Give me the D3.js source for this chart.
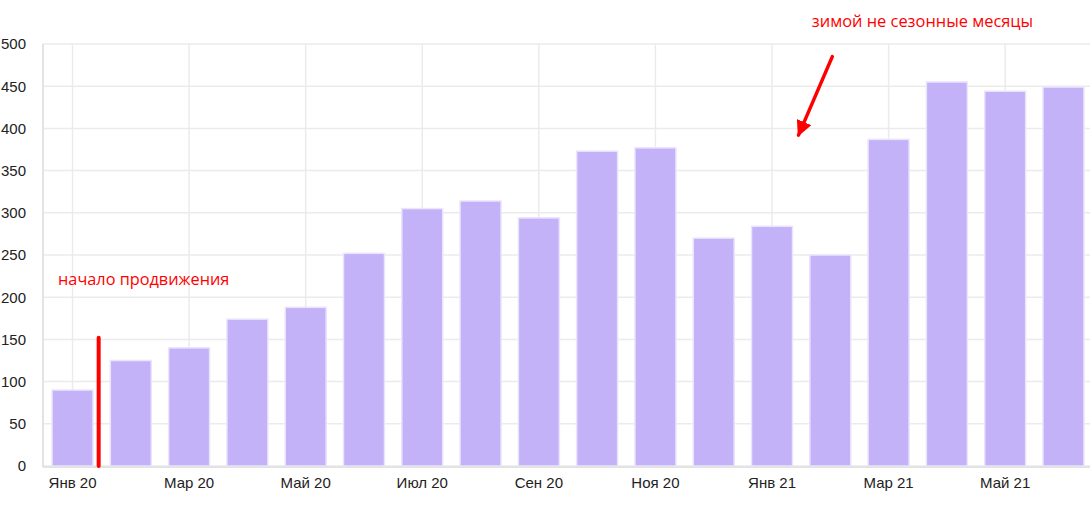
<!DOCTYPE html>
<html>
<head>
<meta charset="utf-8">
<script src="https://cdn.jsdelivr.net/npm/d3@7"></script>
<style>
html,body{margin:0;padding:0;background:#fff;}
svg{display:block;}
</style>
</head>
<body>
<svg id="chart" width="1092" height="523"></svg>
<script>
const months = ["Янв 20","Фев 20","Мар 20","Апр 20","Май 20","Июн 20","Июл 20","Авг 20","Сен 20","Окт 20","Ноя 20","Дек 20","Янв 21","Фев 21","Мар 21","Апр 21","Май 21","Июн 21"];
const values = [90,125,140,174,188,252,305,314,294,373,377,270,284,250,387,455,444,449];
const xTickLabels = ["Янв 20","Мар 20","Май 20","Июл 20","Сен 20","Ноя 20","Янв 21","Мар 21","Май 21"];
const yTicks = [0,50,100,150,200,250,300,350,400,450,500];
const annoStartText = "начало продвижения";
const annoStartLineValue = 152;
const annoWinterText = "зимой не сезонные месяцы";

const svg = d3.select("#chart");
const m = {left:43, right:0, top:44, bottom:57};
const W = 1092, H = 523;
const plotRight = 1090;
const x = d3.scaleBand().domain(months).range([m.left, 1093]).paddingInner(0.297).paddingOuter(0.155);
const y = d3.scaleLinear().domain([0,500]).range([H - m.bottom, m.top]);

const grid = svg.append("g");
grid.selectAll("line.h").data(yTicks).join("line")
  .attr("x1", m.left).attr("x2", plotRight)
  .attr("y1", d => y(d)).attr("y2", d => y(d))
  .attr("stroke", "#ebebeb").attr("stroke-width", 1.5);
grid.selectAll("line.v").data(xTickLabels).join("line")
  .attr("x1", d => x(d) + x.bandwidth()/2).attr("x2", d => x(d) + x.bandwidth()/2)
  .attr("y1", y(500)).attr("y2", y(0))
  .attr("stroke", "#ebebeb").attr("stroke-width", 1.5);

svg.append("g").selectAll("rect").data(values).join("rect")
  .attr("x", (d,i) => x(months[i]))
  .attr("width", x.bandwidth())
  .attr("y", d => y(d))
  .attr("height", d => y(0) - y(d))
  .attr("fill", "#c4b2f9")
  .attr("stroke", "#ebe4fd")
  .attr("stroke-width", 1.5);

// axis lines
svg.append("line").attr("x1", m.left).attr("x2", m.left).attr("y1", y(500)).attr("y2", y(0)+1)
  .attr("stroke", "#e3e3e3").attr("stroke-width", 2);
svg.append("line").attr("x1", m.left).attr("x2", plotRight).attr("y1", y(0)+1).attr("y2", y(0)+1)
  .attr("stroke", "#e3e3e3").attr("stroke-width", 2);

// y axis
const yAxis = d3.axisLeft(y).tickValues(yTicks).tickSize(0).tickPadding(17);
const gy = svg.append("g").attr("transform", `translate(${m.left},0)`).call(yAxis);
gy.select(".domain").remove();
gy.selectAll("text").attr("font-family","Arial, 'Liberation Sans', sans-serif").attr("font-size","15px").attr("fill","#222");

// x axis
const xAxis = d3.axisBottom(x).tickValues(xTickLabels).tickSize(0).tickPadding(11);
const gx = svg.append("g").attr("transform", `translate(0,${y(0)})`).call(xAxis);
gx.select(".domain").remove();
gx.selectAll("text").attr("font-family","Arial, 'Liberation Sans', sans-serif").attr("font-size","15px").attr("fill","#222");

// annotations
const xStart = x(months[0]) + x.bandwidth() + (x.step() - x.bandwidth())/2 - 3;
svg.append("line").attr("x1", xStart).attr("x2", xStart)
  .attr("y1", y(annoStartLineValue)).attr("y2", y(0))
  .attr("stroke", "red").attr("stroke-width", 4).attr("stroke-linecap","round");
svg.append("text").attr("x", x(months[0]) + 6).attr("y", y(200) - 12)
  .attr("font-family","'Open Sans', sans-serif").attr("font-size","16.3px").attr("fill","red")
  .text(annoStartText);

svg.append("text").attr("x", x(months[13]) + 2).attr("y", 27)
  .attr("font-family","'Open Sans', sans-serif").attr("font-size","16.4px").attr("fill","red")
  .text(annoWinterText);

const defs = svg.append("defs");
defs.append("marker").attr("id","ah").attr("viewBox","0 0 10 10").attr("refX",9).attr("refY",5)
  .attr("markerWidth",4.5).attr("markerHeight",4.5).attr("orient","auto-start-reverse").attr("markerUnits","strokeWidth")
  .append("path").attr("d","M0,0 L10,5 L0,10 z").attr("fill","red");
const ax1 = x(months[13]) + x.bandwidth()/2 + 2, ay1 = y(485);
const ax2 = x(months[12]) + x.bandwidth() + 6, ay2 = y(392);
svg.append("line").attr("x1", ax1).attr("y1", ay1).attr("x2", ax2).attr("y2", ay2)
  .attr("stroke","red").attr("stroke-width",3.5).attr("stroke-linecap","round").attr("marker-end","url(#ah)");
</script>
</body>
</html>
